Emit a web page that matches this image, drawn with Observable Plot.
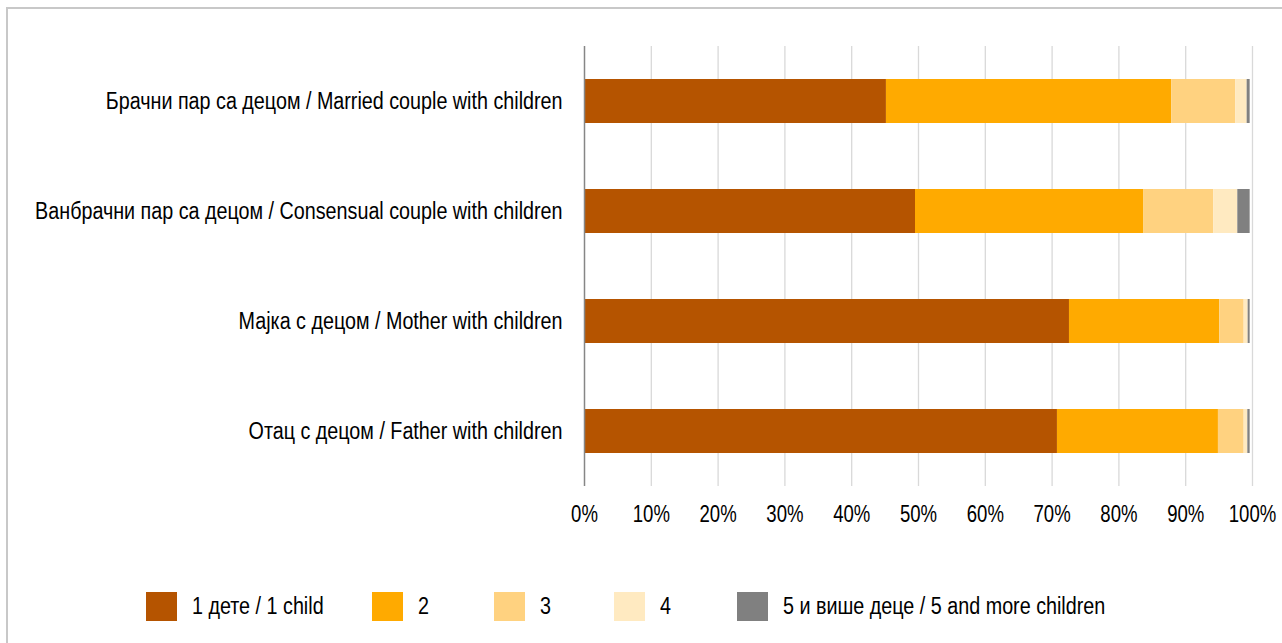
<!DOCTYPE html>
<html>
<head>
<meta charset="utf-8">
<script src="https://cdn.jsdelivr.net/npm/d3@7"></script>
<script src="https://cdn.jsdelivr.net/npm/@observablehq/plot@0.6"></script>
<style>
  html, body { margin: 0; padding: 0; background: #fff; overflow: hidden; }
  body { width: 1282px; height: 643px; position: relative; font-family: "Liberation Sans", Arial, sans-serif; }
  #frame { position: absolute; left: 6px; top: 7px; width: 1400px; height: 800px; border-left: 2px solid #c8c8c8; border-top: 2px solid #c8c8c8; box-sizing: border-box; pointer-events: none; }
  #chart { position: absolute; left: 0; top: 0; }
  #legend { position: absolute; left: 0; top: 560px; width: 1282px; height: 83px; font-size: 23.5px; color: #000; }
  .item { position: absolute; top: 32px; height: 29px; display: flex; align-items: center; white-space: nowrap; }
  .sw { width: 31px; height: 29px; margin-right: 15px; flex: none; }
  .item span { display: inline-block; transform: scaleX(0.84); transform-origin: left center; }
</style>
</head>
<body>
<div id="chart"></div>
<div id="legend"></div>
<div id="frame"></div>
<script>
// ---- data ----
const categories = [
  "Брачни пар са децом / Married couple with children",
  "Ванбрачни пар са децом / Consensual couple with children",
  "Мајка с децом / Mother with children",
  "Отац с децом / Father with children"
];
const seriesNames = ["1 дете / 1 child", "2", "3", "4", "5 и више деце / 5 and more children"];
const oneChild      = [45.2, 49.55, 72.6, 70.8];
const twoChildren   = [42.7, 34.2, 22.5, 24.1];
const threeChildren = [9.6, 10.45, 3.65, 3.85];
const fourChildren  = [1.7, 3.6, 0.6, 0.55];
const fivePlus      = [0.45, 1.85, 0.3, 0.35];
const tickValues = [0, 10, 20, 30, 40, 50, 60, 70, 80, 90, 100];
const tickLabels = ["0%", "10%", "20%", "30%", "40%", "50%", "60%", "70%", "80%", "90%", "100%"];
const colors = ["#b55400", "#ffaa00", "#ffd280", "#ffeac1", "#808080"];

const seriesValues = [oneChild, twoChildren, threeChildren, fourChildren, fivePlus];
const rows = [];
seriesNames.forEach((s, si) => {
  categories.forEach((c, ci) => {
    rows.push({category: c, series: s, value: seriesValues[si][ci]});
  });
});

const chart = Plot.plot({
  width: 1282,
  height: 560,
  marginTop: 46,
  marginBottom: 74,
  marginLeft: 584,
  marginRight: 30,
  style: {fontFamily: '"Liberation Sans", Arial, sans-serif', fontSize: "23.5px", color: "#000", background: "transparent"},
  x: {domain: [0, 100]},
  y: {domain: categories, paddingInner: 0.6, paddingOuter: 0.3},
  color: {domain: seriesNames, range: colors},
  marks: [
    Plot.ruleX(tickValues.slice(1), {stroke: "#d9d9d9", strokeWidth: 1.3}),
    Plot.barX(rows, Plot.stackX({
      y: "category",
      x: "value",
      fill: "series",
      order: seriesNames
    })),
    Plot.ruleX([0], {stroke: "#868686", strokeWidth: 1.5}),
    Plot.axisX({ticks: tickValues, tickFormat: (d) => tickLabels[tickValues.indexOf(d)], tickSize: 0, tickPadding: 19, label: null, fontSize: 23.5}),
    Plot.axisY({tickSize: 0, tickPadding: 22, label: null, fontSize: 23.5})
  ]
});
document.getElementById("chart").appendChild(chart);

// condense axis text horizontally about each label's own anchor, to mimic a narrow typeface
function condense(selector, f) {
  chart.querySelectorAll(selector).forEach(t => {
    const b = t.getBBox();
    const anchor = getComputedStyle(t).textAnchor;
    const ax = anchor === "end" ? b.x + b.width : anchor === "middle" ? b.x + b.width / 2 : b.x;
    const ay = b.y + b.height / 2;
    const tr = t.getAttribute("transform") || "";
    t.setAttribute("transform", `${tr} translate(${ax},${ay}) scale(${f},1) translate(${-ax},${-ay})`.trim());
  });
}
condense('g[aria-label="y-axis tick label"] text', 0.84);
condense('g[aria-label="x-axis tick label"] text', 0.79);

// legend (HTML, below the svg)
const legendLeft = [146, 372, 494, 614, 737];
const legend = document.getElementById("legend");
seriesNames.forEach((s, i) => {
  const it = document.createElement("div");
  it.className = "item";
  it.style.left = legendLeft[i] + "px";
  const sw = document.createElement("div");
  sw.className = "sw";
  sw.style.background = colors[i];
  const tx = document.createElement("span");
  tx.textContent = s;
  it.appendChild(sw);
  it.appendChild(tx);
  legend.appendChild(it);
});
</script>
</body>
</html>
